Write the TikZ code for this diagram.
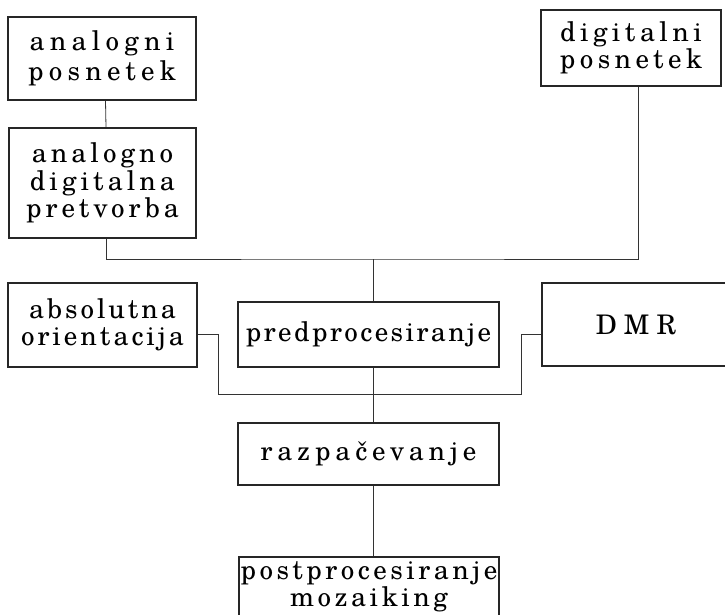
\documentclass[tikz,border=0pt]{standalone}
\usepackage{fontspec}
\setmainfont{texgyreschola-regular.otf}
\newcommand\lsfont[2]{\fontsize{27}{#1}\selectfont\addfontfeatures{LetterSpace=#2}}
\begin{document}
\begin{tikzpicture}[x=1pt,y=-1pt,
  box/.style={draw=black!85, line width=1.6pt, inner sep=0pt, align=center},
  conn/.style={draw=black!80, line width=0.8pt}]
\useasboundingbox (0,0) rectangle (725,615);
\node[box, minimum width=188pt, minimum height=83pt, font={\lsfont{30}{19.5}}] (ap) at (102,58.5) {analogni\\posnetek};
\node[box, minimum width=187pt, minimum height=110pt, font={\lsfont{27.5}{15}}] (adp) at (102.5,183) {analogno\\digitalna\\pretvorba};
\node[box, minimum width=180pt, minimum height=76pt, font={\lsfont{27}{16.5}}] (dp) at (631,48) {digitalni\\posnetek};
\node[box, minimum width=189pt, minimum height=84pt, font={\lsfont{27}{11}}] (ao) at (102.5,325) {absolutna\\orientacija};
\node[box, minimum width=261pt, minimum height=65pt, font={\lsfont{28}{9}}] (pp) at (368.5,334.5) {predprocesiranje};
\node[box, minimum width=188pt, minimum height=83pt, font={\lsfont{28}{26}}] (dmr) at (636,324.5) {DMR};
\node[box, minimum width=261pt, minimum height=62pt, font={\lsfont{28}{18}}] (rz) at (368.5,454) {razpačevanje};
\node[box, minimum width=260pt, minimum height=70pt] (po) at (369,592) {};
\node[inner sep=0pt, align=center, font={\lsfont{27}{13}}] (pot) at (369,587) {postprocesiranje\\mozaiking};
\coordinate (jt) at (373,259);
\coordinate (bl) at (218,394);
\coordinate (br) at (521,394);
\draw[conn] ([xshift=3.5pt]ap.south) -- ([xshift=3.5pt]adp.north);
\draw[conn] ([xshift=3.5pt]adp.south) |- (jt) -| ([xshift=7pt]dp.south);
\draw[conn] (jt) -- ([xshift=4.5pt]pp.north);
\draw[conn] ([xshift=4.5pt]pp.south) -- ([xshift=4.5pt]rz.north);
\draw[conn] ([xshift=4.5pt]rz.south) -- ([xshift=4pt]po.north);
\draw[conn] ([yshift=-9pt]ao.east) -| (bl) -- (br) |- ([yshift=-9.5pt]dmr.west);
\end{tikzpicture}
\end{document}
